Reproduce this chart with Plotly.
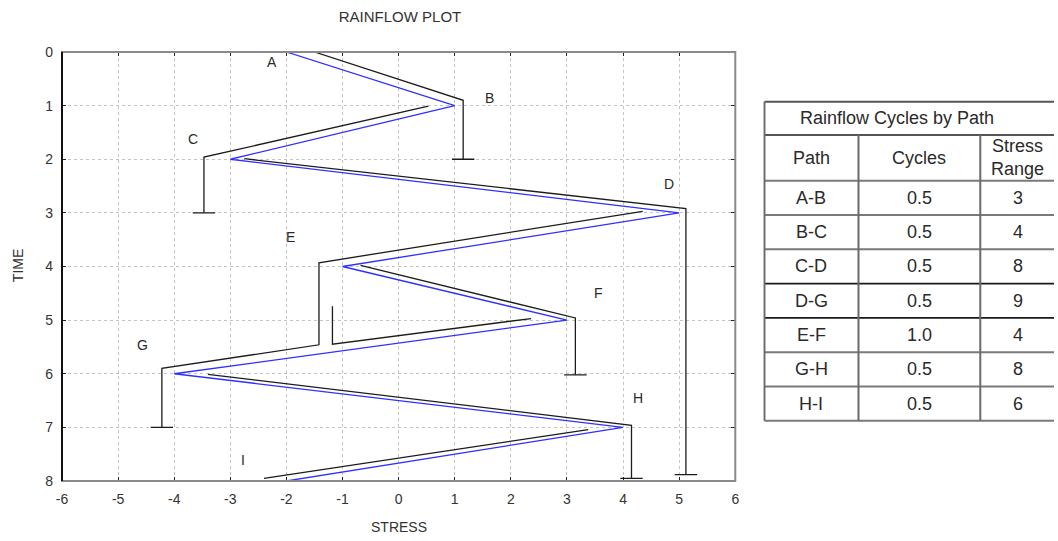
import plotly.graph_objects as go

# ---- stress history (turning points) ----
peak_labels = ["A", "B", "C", "D", "E", "F", "G", "H", "I"]
peak_time = [0, 1, 2, 3, 4, 5, 6, 7, 8]
peak_stress = [-2, 1, -3, 5, -1, 3, -4, 4, -2]

# axis ticks
stress_ticks = [-6, -5, -4, -3, -2, -1, 0, 1, 2, 3, 4, 5, 6]
stress_tick_text = ["-6", "-5", "-4", "-3", "-2", "-1", "0", "1", "2", "3", "4", "5", "6"]
time_ticks = [0, 1, 2, 3, 4, 5, 6, 7, 8]

# ---- rainflow paths (stress, time vertices) and whether they end with a stop bar ----
rain_ab_x = [-1.5, 1.15, 1.15]
rain_ab_y = [0.0, 0.9, 2.0]
rain_bc_x = [0.53, -3.47, -3.47]
rain_bc_y = [1.01, 1.96, 3.0]
rain_cd_x = [-2.75, 5.12, 5.12]
rain_cd_y = [1.99, 2.92, 7.88]
rain_dg_x = [4.35, -1.42, -1.42, -4.22, -4.22]
rain_dg_y = [2.97, 3.93, 5.46, 5.9, 7.0]
rain_ef_x = [-0.68, 3.15, 3.15]
rain_ef_y = [3.98, 4.96, 6.02]
rain_fe_x = [2.36, -1.18, -1.18]
rain_fe_y = [4.97, 5.45, 4.74]
rain_gh_x = [-3.4, 4.15, 4.15]
rain_gh_y = [6.01, 6.96, 7.95]
rain_hi_x = [3.38, -2.4]
rain_hi_y = [7.04, 7.95]

rain_paths = [
    (rain_ab_x, rain_ab_y, True),
    (rain_bc_x, rain_bc_y, True),
    (rain_cd_x, rain_cd_y, True),
    (rain_dg_x, rain_dg_y, True),
    (rain_ef_x, rain_ef_y, True),
    (rain_fe_x, rain_fe_y, False),
    (rain_gh_x, rain_gh_y, True),
    (rain_hi_x, rain_hi_y, False),
]

# ---- summary table ----
table_title = "Rainflow Cycles by Path"
table_header = ["Path", "Cycles", "Stress<br>Range"]
cycle_paths = ["A-B", "B-C", "C-D", "D-G", "E-F", "G-H", "H-I"]
cycle_counts = ["0.5", "0.5", "0.5", "0.5", "1.0", "0.5", "0.5"]
stress_ranges = [3, 4, 8, 9, 4, 8, 6]

# ---- styling ----
BAR_HALF = 0.2
LABEL_OFFSET = [(-0.26, 0.19), (0.62, -0.14), (-0.66, -0.38), (-0.19, -0.53),
                (-0.92, -0.55), (0.57, -0.5), (-0.57, -0.54), (0.26, -0.55),
                (-0.78, -0.4)]
TEXT = "#2a2a2a"
FONT = "Liberation Sans, Arial, sans-serif"

W, H = 1058, 541
ML, MT, MB = 62, 52, 60
PLOT_R = 738
paper_w = W - ML
main_dom = (PLOT_R - ML) / paper_w
TAB_X0 = 766

fig = go.Figure()

# rainflow paths as one black trace separated by gaps
rx, ry = [], []
for xs, ys, bar in rain_paths:
    rx += xs + [None]
    ry += ys + [None]
    if bar:
        rx += [xs[-1] - BAR_HALF, xs[-1] + BAR_HALF, None]
        ry += [ys[-1], ys[-1], None]
fig.add_trace(go.Scatter(x=rx, y=ry, mode="lines", line=dict(color="#1c1c1c", width=1.3),
                         hoverinfo="skip", showlegend=False, connectgaps=False))

# stress history
fig.add_trace(go.Scatter(x=peak_stress, y=peak_time, mode="lines",
                         line=dict(color="#2f2fff", width=1.3),
                         showlegend=False))

# peak labels
for lab, s, t, (dx, dy) in zip(peak_labels, peak_stress, peak_time, LABEL_OFFSET):
    fig.add_annotation(x=s + dx, y=t + dy, xref="x", yref="y", text=lab, showarrow=False,
                       font=dict(family=FONT, size=14, color=TEXT))

axis_common = dict(showgrid=True, gridcolor="#c4c4c4", griddash="dot", gridwidth=1,
                   zeroline=False, showline=False, ticks="inside", ticklen=4,
                   tickcolor="#222", mirror="ticks",
                   tickfont=dict(family=FONT, size=14, color="#333"))

fig.update_layout(
    width=W, height=H,
    margin=dict(l=ML, r=0, t=MT, b=MB),
    paper_bgcolor="white", plot_bgcolor="white",
    xaxis=dict(domain=[0, main_dom], range=[-6, 6], tickvals=stress_ticks,
               ticktext=stress_tick_text, ticklabelstandoff=8, **axis_common),
    yaxis=dict(range=[8, 0], tickvals=time_ticks, ticklabelstandoff=8, **axis_common),
    xaxis2=dict(domain=[(TAB_X0 - ML) / paper_w, 1], range=[TAB_X0, W], visible=False,
                anchor="y2", fixedrange=True),
    yaxis2=dict(domain=[0, 1], range=[H - MB, MT], visible=False, anchor="x2",
                fixedrange=True),
    title=dict(text="RAINFLOW PLOT", x=400 / W, xanchor="center", xref="container",
               y=1 - 17 / H, yanchor="middle", yref="container",
               font=dict(family=FONT, size=15, color="#333")),
)

# plot frame: gray box with darker left axis
fig.add_shape(type="rect", xref="x domain", yref="y domain", x0=0, x1=1, y0=0, y1=1,
              line=dict(color="#8a8a8a", width=2), layer="above")
fig.add_shape(type="line", xref="x domain", yref="y domain", x0=0, x1=0, y0=0, y1=1,
              line=dict(color="#111", width=2), layer="above")

# axis titles
fig.add_annotation(text="STRESS", xref="x domain", yref="paper", x=0.5,
                   y=(H - MB - 527) / (H - MT - MB), showarrow=False, yanchor="middle",
                   font=dict(family=FONT, size=14, color="#333"))
fig.add_annotation(text="TIME", xref="paper", yref="paper", x=(18 - ML) / paper_w,
                   y=(H - MB - 266) / (H - MT - MB), showarrow=False, textangle=-90,
                   xanchor="center", yanchor="middle",
                   font=dict(family=FONT, size=14, color="#333"))

# ---- table drawn in its own coordinate frame ----
col_edges = [767.3, 861.7, 984, 1059]
title_top, header_top, body_top, row_h = 101.7, 135, 180.7, 34.3
row_edges = [body_top + i * row_h for i in range(len(cycle_paths) + 1)]
dark_rows = {3, 4}

def hline(y, color, width):
    fig.add_shape(type="line", xref="x2", yref="y2", x0=col_edges[0], x1=col_edges[-1],
                  y0=y, y1=y, line=dict(color=color, width=width))

hline(title_top, "#555", 2)
hline(header_top, "#555", 2)
for i, y in enumerate(row_edges):
    if i in dark_rows:
        hline(y, "#1a1a1a", 1.6)
    else:
        hline(y, "#7a7a7a", 2)
fig.add_shape(type="line", xref="x2", yref="y2", x0=col_edges[0], x1=col_edges[0],
              y0=title_top, y1=row_edges[-1], line=dict(color="#6a6a6a", width=2))
for cx in col_edges[1:]:
    fig.add_shape(type="line", xref="x2", yref="y2", x0=cx, x1=cx,
                  y0=header_top, y1=row_edges[-1], line=dict(color="#6a6a6a", width=2))

tfont = dict(family=FONT, size=18, color=TEXT)
fig.add_annotation(text=table_title, xref="x2", yref="y2", x=900,
                   y=(title_top + header_top) / 2, showarrow=False, font=tfont)
col_mid = [(a + b) / 2 for a, b in zip(col_edges[:-1], col_edges[1:])]
for cx, head in zip(col_mid, table_header):
    fig.add_annotation(text=head, xref="x2", yref="y2", x=cx,
                       y=(header_top + body_top) / 2, showarrow=False, font=tfont)
for i, (p, c, r) in enumerate(zip(cycle_paths, cycle_counts, stress_ranges)):
    cy = (row_edges[i] + row_edges[i + 1]) / 2
    for cx, val in zip(col_mid, [p, c, str(r)]):
        fig.add_annotation(text=val, xref="x2", yref="y2", x=cx, y=cy,
                           showarrow=False, font=tfont)

fig.write_html("out.html")
